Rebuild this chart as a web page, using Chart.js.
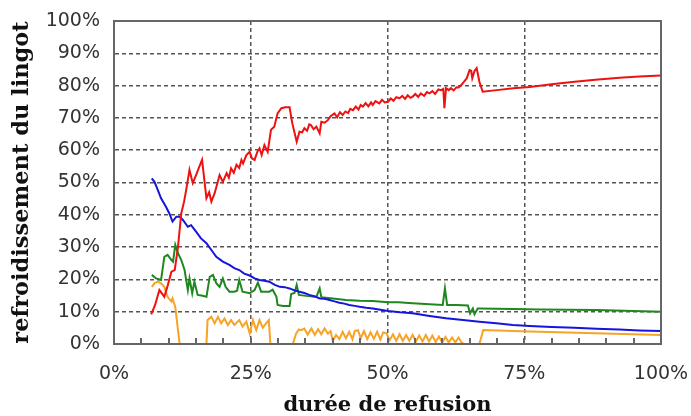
<!DOCTYPE html>
<html>
<head>
<meta charset="utf-8">
<script src="https://cdn.jsdelivr.net/npm/chart.js@4/dist/chart.umd.min.js"></script>
</head>
<body style="margin:0">
<canvas id="c" width="691" height="416"></canvas>
<script>
// Refroidissement du lingot (part of total, %) versus durée de refusion (%)

const redX = [6.8, 7.5, 8.3, 9.2, 9.8, 10.5, 11.1, 11.7, 12.3, 12.8, 13.2, 13.8, 14.4, 15.0, 15.6, 16.1, 16.9, 17.4, 17.8, 18.4,
  19.3, 19.9, 20.6, 21.0, 21.4, 21.9, 22.4, 22.9, 23.3, 23.6, 24.2, 24.8, 25.2, 25.7, 26.2, 26.6, 27.0, 27.5, 28.1, 28.7,
  29.3, 29.9, 30.6, 31.3, 32.1, 32.6, 33.4, 33.9, 34.4, 34.8, 35.3, 35.7, 36.0, 36.5, 37.0, 37.6, 37.9, 38.5, 39.1, 39.6,
  40.3, 40.8, 41.3, 41.8, 42.3, 42.8, 43.2, 43.7, 44.2, 44.7, 45.1, 45.5, 46.0, 46.5, 47.0, 47.3, 47.8, 48.5, 49.0, 49.5,
  50.1, 50.6, 51.1, 51.6, 52.2, 52.7, 53.2, 53.7, 54.2, 54.6, 55.1, 55.6, 56.1, 56.7, 57.2, 57.7, 58.2, 58.7, 59.3, 59.8,
  60.2, 60.4, 60.7, 61.2, 61.6, 62.1, 62.6, 63.0, 63.5, 64.0, 64.5, 65.0, 65.3, 65.5, 65.9, 66.3, 66.8, 67.4, 70.0, 73.0,
  76.0, 80.0, 84.2, 88.0, 92.4, 96.0, 100];
const redY = [9.2, 12.0, 16.7, 14.6, 18.0, 22.4, 22.9, 30.1, 40.5, 44.0, 47.7, 53.9, 49.8, 52.3, 54.9, 57.0, 45.1, 47.0, 44.1, 46.7,
  52.3, 50.2, 52.9, 51.5, 54.4, 53.0, 55.5, 54.5, 57.0, 55.9, 58.5, 59.5, 57.5, 57.0, 59.5, 60.6, 58.5, 61.6, 59.5, 66.3,
  67.3, 71.4, 73.0, 73.3, 73.3, 68.3, 62.6, 65.7, 65.5, 66.8, 66.0, 68.0, 67.8, 66.5, 67.3, 65.2, 68.8, 68.5, 69.3, 70.5,
  71.4, 70.2, 71.8, 70.9, 72.0, 71.5, 72.8, 72.4, 73.5, 72.6, 74.0, 73.5, 74.6, 73.6, 74.8, 74.0, 75.2, 74.5, 75.6, 74.8,
  75.0, 76.0, 75.3, 76.4, 76.1, 76.8, 75.9, 77.0, 76.2, 76.6, 77.4, 76.5, 77.6, 76.8, 78.0, 77.6, 78.3, 77.4, 78.8, 78.6,
  79.0, 73.0, 79.2, 78.6, 79.2, 78.5, 79.5, 79.4, 80.2, 81.2, 82.3, 84.8, 84.6, 82.3, 84.5, 85.4, 81.2, 78.1, 78.6, 79.2,
  79.6, 80.4, 81.2, 81.8, 82.4, 82.8, 83.1];

const blueX = [6.9, 7.4, 8.0, 8.6, 9.5, 10.1, 10.7, 11.4, 12.0, 12.6, 13.5, 14.1, 15.0, 15.9, 16.9, 17.8, 18.7, 19.9, 21.1, 22.0,
  22.9, 23.8, 24.8, 25.7, 26.6, 27.5, 28.4, 29.4, 30.3, 31.2, 32.1, 33.0, 33.9, 34.8, 35.7, 36.6, 37.6, 38.5, 39.4, 40.3,
  41.2, 42.1, 43.0, 44.0, 44.9, 46.1, 47.3, 48.7, 50.1, 52.3, 54.6, 57.7, 60.7, 63.8, 66.8, 69.9, 72.9, 76.0, 80.0, 84.2,
  88.2, 92.4, 96.0, 100];
const blueY = [51.3, 50.2, 47.7, 45.1, 42.5, 40.5, 37.9, 39.4, 39.4, 38.4, 36.3, 36.8, 34.8, 32.7, 31.2, 29.1, 27.0, 25.5, 24.5, 23.5,
  22.9, 21.8, 21.2, 20.3, 19.8, 19.6, 19.3, 18.3, 17.7, 17.6, 17.2, 16.6, 16.2, 15.8, 15.2, 14.8, 14.1, 14.0, 13.6, 13.2,
  12.8, 12.5, 12.1, 11.8, 11.5, 11.2, 11.0, 10.6, 10.2, 9.8, 9.5, 8.7, 8.0, 7.4, 6.9, 6.4, 5.9, 5.6, 5.3, 5.0,
  4.7, 4.5, 4.2, 4.0];

const greenX = [6.9, 7.7, 8.6, 9.2, 9.8, 10.5, 10.8, 11.2, 11.7, 12.3, 12.9, 13.5, 13.8, 14.3, 14.7, 15.3, 16.0, 16.9, 17.5, 18.1,
  18.7, 19.3, 19.9, 20.4, 21.1, 22.0, 22.5, 22.9, 23.5, 24.8, 25.7, 26.3, 26.9, 28.4, 29.0, 29.7, 29.9, 30.9, 32.1, 32.4,
  33.0, 33.4, 33.8, 35.1, 37.0, 37.6, 37.9, 40.0, 42.4, 44.9, 47.3, 50.1, 52.0, 54.6, 57.7, 60.1, 60.5, 60.9, 62.6, 64.7,
  65.1, 65.6, 65.9, 66.5, 66.8, 72.9, 77.8, 88.2, 100];
const greenY = [21.4, 20.3, 19.8, 27.0, 27.6, 26.0, 25.5, 30.7, 28.1, 26.0, 22.9, 16.7, 20.3, 15.7, 19.3, 15.2, 15.0, 14.6, 20.8, 21.4,
  18.8, 17.7, 20.3, 17.7, 16.2, 16.2, 16.5, 19.8, 16.2, 15.7, 16.7, 19.0, 16.2, 16.2, 16.8, 14.6, 12.1, 11.8, 11.8, 15.5,
  15.8, 18.3, 15.2, 14.9, 14.6, 17.2, 14.5, 14.1, 13.6, 13.4, 13.3, 12.9, 12.9, 12.6, 12.3, 12.1, 17.2, 12.1, 12.1, 11.9,
  9.5, 11.0, 9.2, 11.0, 11.0, 10.8, 10.7, 10.5, 10.0];

const orangeX = [6.9, 7.4, 8.0, 8.6, 9.2, 9.8, 10.5, 10.7, 11.2, 12.0, 16.9, 17.1, 17.8, 18.4, 19.0, 19.6, 20.2, 20.8, 21.4, 22.0,
  22.9, 23.5, 24.2, 24.8, 25.4, 26.0, 26.6, 27.2, 27.8, 28.3, 28.6, 32.7, 33.3, 33.8, 34.2, 34.8, 35.4, 36.1, 36.7, 37.3,
  37.9, 38.5, 39.1, 39.6, 40.0, 40.6, 41.2, 41.8, 42.4, 43.0, 43.6, 44.0, 44.6, 45.1, 45.7, 46.3, 46.9, 47.5, 48.1, 48.7,
  49.2, 49.8, 50.4, 51.0, 51.6, 52.2, 52.8, 53.4, 54.0, 54.6, 55.2, 55.8, 56.4, 57.0, 57.6, 58.2, 58.8, 59.4, 60.0, 60.6,
  61.2, 61.8, 62.4, 63.0, 63.5, 64.0, 66.8, 67.5, 72.9, 77.8, 88.0, 100];
const orangeY = [17.7, 18.8, 19.3, 18.8, 17.7, 14.6, 13.1, 14.1, 11.5, 0, 0, 7.4, 8.4, 6.4, 8.4, 6.4, 7.9, 5.9, 7.4, 5.9,
  7.4, 5.4, 6.9, 3.3, 7.4, 4.3, 7.4, 5.0, 6.4, 7.4, 0, 0, 3.3, 4.5, 4.3, 4.8, 2.9, 4.8, 2.8, 4.6,
  3.0, 4.8, 3.2, 4.0, 1.0, 2.8, 1.5, 3.8, 1.8, 3.8, 1.5, 4.0, 4.3, 1.8, 4.0, 1.5, 3.6, 1.6, 3.8, 1.4,
  3.6, 3.3, 1.2, 3.0, 1.0, 3.0, 1.0, 2.8, 1.0, 2.8, 0.8, 2.6, 0.8, 2.8, 0.8, 2.6, 0.6, 2.3, 0.5, 2.2,
  0.5, 2.0, 0.5, 2.0, 0.5, 0, 0, 4.3, 4.0, 3.8, 3.3, 2.8];

const xLabelStep = 25;   // labelled ticks / grid lines on the x axis
const xMinorStep = 5;    // small inner tick marks
const yStep = 10;

const pts = (xs, ys) => xs.map((x, i) => ({ x: x, y: ys[i] }));

function series(label, xs, ys, color) {
  return {
    label: label,
    data: pts(xs, ys),
    borderColor: color,
    backgroundColor: color,
    borderWidth: 2,
    pointRadius: 0,
    tension: 0,
    fill: false,
    clip: 4
  };
}

// Solid frame around the plot and small inward tick marks along the bottom
const framePlugin = {
  id: 'plotFrame',
  afterDraw(chart) {
    const ctx = chart.ctx;
    const a = chart.chartArea;
    const xs = chart.scales.x;
    ctx.save();
    ctx.strokeStyle = '#666666';
    ctx.lineWidth = 2;
    ctx.setLineDash([]);
    for (let v = xMinorStep; v < 100; v += xMinorStep) {
      const p = Math.round(xs.getPixelForValue(v));
      ctx.beginPath();
      ctx.moveTo(p, a.bottom);
      ctx.lineTo(p, a.bottom - 6);
      ctx.stroke();
    }
    ctx.strokeRect(a.left, a.top, a.right - a.left, a.bottom - a.top);
    ctx.restore();
  }
};

const tickFont = { family: 'DejaVu Sans', size: 19 };

new Chart(document.getElementById('c'), {
  type: 'line',
  data: {
    datasets: [
      series('rouge', redX, redY, '#ee1111'),
      series('bleu', blueX, blueY, '#1515dd'),
      series('vert', greenX, greenY, '#1f871f'),
      series('orange', orangeX, orangeY, '#f7a326')
    ]
  },
  options: {
    responsive: false,
    animation: false,
    layout: { padding: { top: 21, right: 30, bottom: 0, left: 0 } },
    plugins: { legend: { display: false }, tooltip: { enabled: false } },
    scales: {
      x: {
        type: 'linear',
        min: 0,
        max: 100,
        afterFit(s) { s.height = 72; s.paddingLeft = 0; s.paddingRight = 0; },
        ticks: {
          stepSize: xLabelStep,
          maxRotation: 0,
          padding: 19,
          color: '#333',
          font: tickFont,
          callback: v => v + '%'
        },
        grid: { color: '#555555', lineWidth: 1.5, drawTicks: false },
        border: { display: true, color: '#666666', width: 2, dash: [4, 3] },
        title: {
          display: true,
          text: 'durée de refusion',
          color: '#111',
          font: { family: 'DejaVu Serif', size: 21, weight: 'bold', lineHeight: 1 },
          padding: { top: 0, bottom: 0 }
        }
      },
      y: {
        min: 0,
        max: 100,
        afterFit(s) { s.width = 114; s.paddingTop = 0; s.paddingBottom = 0; },
        ticks: {
          stepSize: yStep,
          padding: 14,
          color: '#333',
          font: tickFont,
          callback: v => v + '%'
        },
        grid: { color: '#555555', lineWidth: 1.5, drawTicks: false },
        border: { display: true, color: '#666666', width: 2, dash: [4, 3] },
        title: {
          display: true,
          text: 'refroidissement du lingot',
          color: '#111',
          font: { family: 'DejaVu Serif', size: 22.5, weight: 'bold', lineHeight: 1 },
          padding: { top: 11, bottom: 0 }
        }
      }
    }
  },
  plugins: [framePlugin]
});
</script>
</body>
</html>
